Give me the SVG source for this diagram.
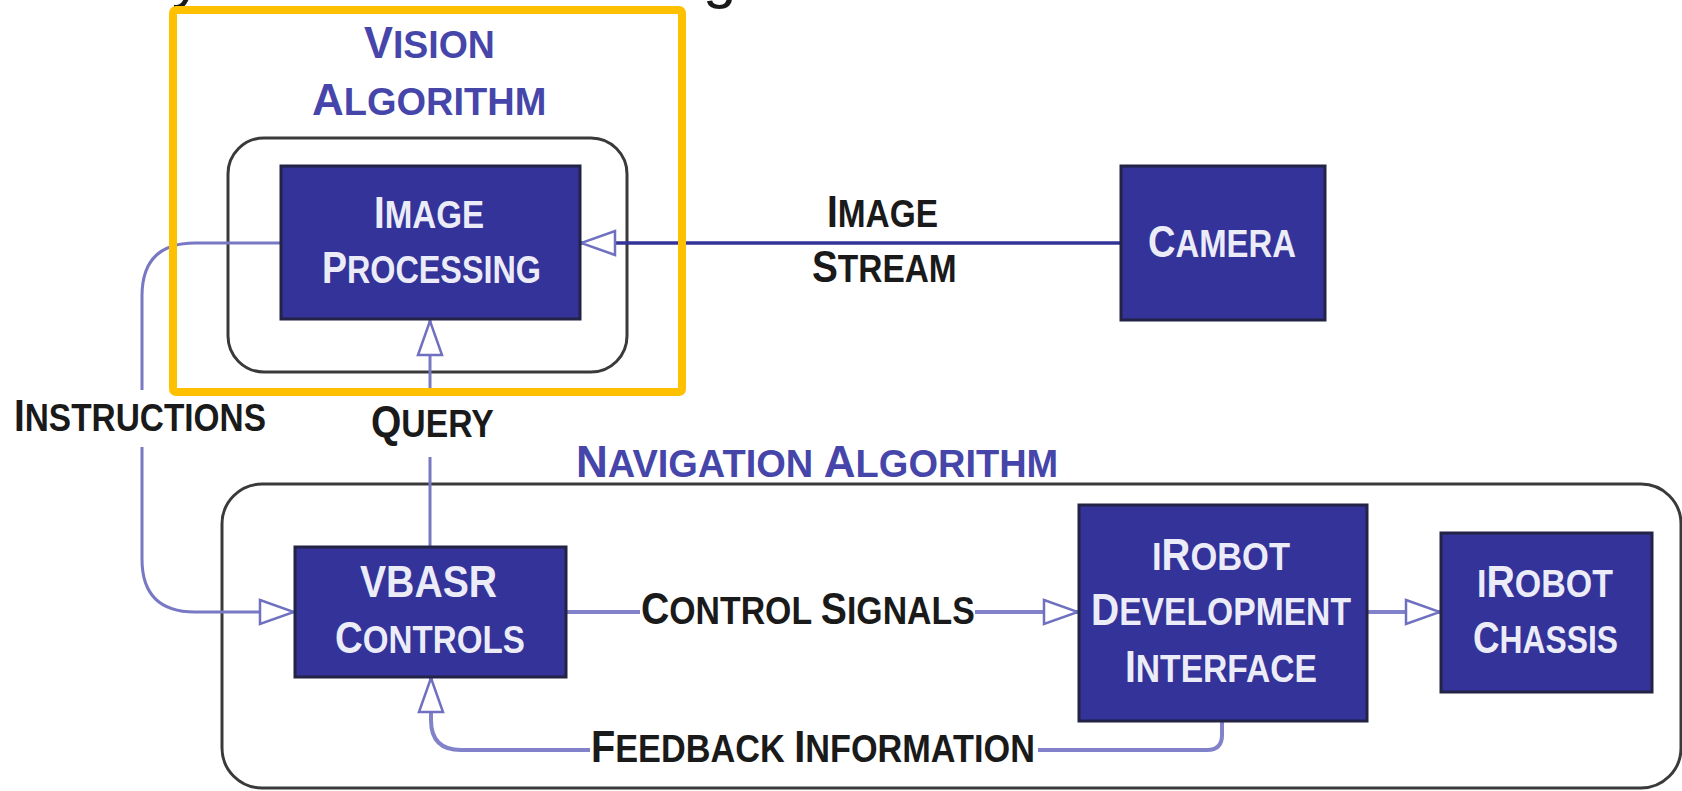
<svg xmlns="http://www.w3.org/2000/svg" width="1682" height="791" viewBox="0 0 1682 791">
<style>
text{font-family:"Liberation Sans",Arial,sans-serif;font-weight:bold}
.big{font-size:44px}
.sm{font-size:38px}
.w{fill:#ECECF8}
.k{fill:#1a1a1a}
.b{fill:#4646AA}
.frag{font-size:60px;font-weight:normal}
.box{fill:#333399;stroke:#232346;stroke-width:3}
.frame{fill:none;stroke:#3a3a3a;stroke-width:3}
.c{fill:none;stroke:#7878C4;stroke-width:3}
.c2{fill:none;stroke:#8282CA;stroke-width:4}
.cs{fill:none;stroke:#333399;stroke-width:3.5}
</style>
<defs>
<marker id="tri" viewBox="0 0 38 28" refX="37" refY="14" markerWidth="38" markerHeight="28" markerUnits="userSpaceOnUse" orient="auto">
<path d="M2,2 L36,14 L2,26 Z" fill="#fff" stroke="#7070C0" stroke-width="2.5"/>
</marker>
</defs>

<text x="172" y="-3" class="k frag">y</text>
<text x="703" y="-3" class="k frag">g</text>

<g id="vision-group">
<rect class="frame" x="228" y="138" width="399" height="234" rx="36"/>
<text class="b" transform="translate(364,58) scale(0.986,1)"><tspan class="big">V</tspan><tspan class="sm">ISION</tspan></text>
<text class="b" transform="translate(312,115) scale(1,1)"><tspan class="big">A</tspan><tspan class="sm">LGORITHM</tspan></text>
</g>

<g id="navigation-group">
<rect class="frame" x="222" y="484" width="1459" height="304" rx="40"/>
<text class="b" transform="translate(576,477) scale(1,1)"><tspan class="big">N</tspan><tspan class="sm">AVIGATION </tspan><tspan class="big">A</tspan><tspan class="sm">LGORITHM</tspan></text>
</g>

<g id="connectors">
<path class="cs" d="M1121,243 H580" marker-end="url(#tri)"/>
<path class="c" d="M281,243 H195 Q142,243 142,296 V390"/>
<path class="c" d="M142,447 V559 Q142,612 195,612 H295" marker-end="url(#tri)"/>
<path class="c" d="M430,390 V320" marker-end="url(#tri)"/>
<path class="c" d="M430,457 V547"/>
<path class="c2" d="M566,612 H640"/>
<path class="c2" d="M975,612 H1079" marker-end="url(#tri)"/>
<path class="c2" d="M1367,612 H1441" marker-end="url(#tri)"/>
<path class="c2" d="M1222,722 V735 Q1222,750 1207,750 H1038"/>
<path class="c2" d="M590,750 H461 Q431,750 431,720 V677" marker-end="url(#tri)"/>
<text class="k" transform="translate(827,227) scale(0.88,1)"><tspan class="big">I</tspan><tspan class="sm">MAGE</tspan></text>
<text class="k" transform="translate(812,282) scale(0.88,1)"><tspan class="big">S</tspan><tspan class="sm">TREAM</tspan></text>
<text class="k" transform="translate(14,431) scale(0.879,1)"><tspan class="big">I</tspan><tspan class="sm">NSTRUCTIONS</tspan></text>
<text class="k" transform="translate(371,437) scale(0.887,1)"><tspan class="big">Q</tspan><tspan class="sm">UERY</tspan></text>
<text class="k" transform="translate(641,624) scale(0.89,1)"><tspan class="big">C</tspan><tspan class="sm">ONTROL </tspan><tspan class="big">S</tspan><tspan class="sm">IGNALS</tspan></text>
<text class="k" transform="translate(591,762) scale(0.902,1)"><tspan class="big">F</tspan><tspan class="sm">EEDBACK </tspan><tspan class="big">I</tspan><tspan class="sm">NFORMATION</tspan></text>
</g>

<g id="image-processing">
<rect class="box" x="281" y="166" width="299" height="153"/>
<text class="w" transform="translate(374,228) scale(0.872,1)"><tspan class="big">I</tspan><tspan class="sm">MAGE</tspan></text>
<text class="w" transform="translate(322,283) scale(0.851,1)"><tspan class="big">P</tspan><tspan class="sm">ROCESSING</tspan></text>
</g>

<g id="camera">
<rect class="box" x="1121" y="166" width="204" height="154"/>
<text class="w" transform="translate(1148,257) scale(0.865,1)"><tspan class="big">C</tspan><tspan class="sm">AMERA</tspan></text>
</g>

<g id="vbasr-controls">
<rect class="box" x="295" y="547" width="271" height="130"/>
<text class="w big" transform="translate(360,597) scale(0.89,1)">VBASR</text>
<text class="w" transform="translate(335,653) scale(0.873,1)"><tspan class="big">C</tspan><tspan class="sm">ONTROLS</tspan></text>
</g>

<g id="irobot-development-interface">
<rect class="box" x="1079" y="505" width="288" height="216"/>
<text class="w" transform="translate(1152,570) scale(0.907,1)"><tspan class="sm">I</tspan><tspan class="big">R</tspan><tspan class="sm">OBOT</tspan></text>
<text class="w" transform="translate(1091,625) scale(0.886,1)"><tspan class="big">D</tspan><tspan class="sm">EVELOPMENT</tspan></text>
<text class="w" transform="translate(1125,682) scale(0.885,1)"><tspan class="big">I</tspan><tspan class="sm">NTERFACE</tspan></text>
</g>

<g id="irobot-chassis">
<rect class="box" x="1441" y="533" width="211" height="159"/>
<text class="w" transform="translate(1477,597) scale(0.894,1)"><tspan class="sm">I</tspan><tspan class="big">R</tspan><tspan class="sm">OBOT</tspan></text>
<text class="w" transform="translate(1473,653) scale(0.837,1)"><tspan class="big">C</tspan><tspan class="sm">HASSIS</tspan></text>
</g>

<g id="highlight">
<rect x="173" y="10" width="509" height="382" rx="3" fill="none" stroke="#FFC000" stroke-width="8"/>
</g>
</svg>
